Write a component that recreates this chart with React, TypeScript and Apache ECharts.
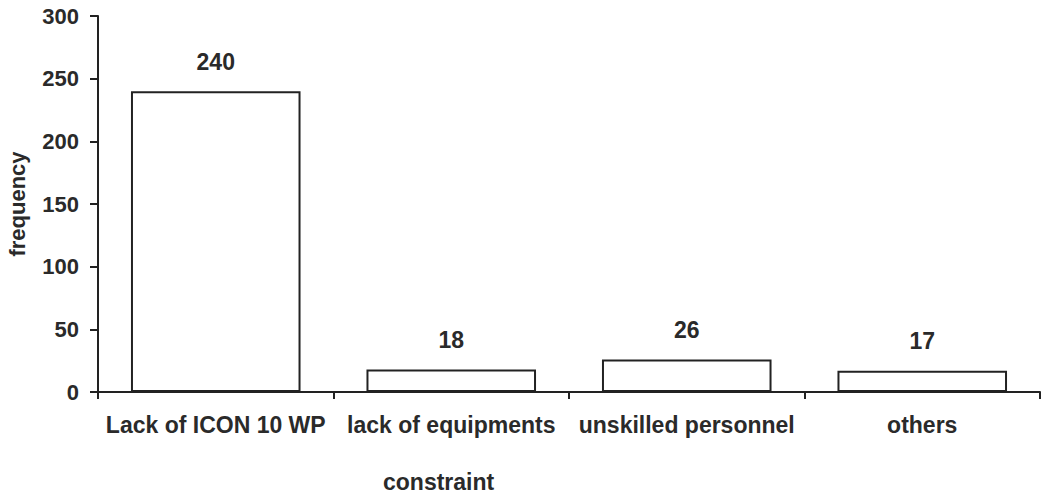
import React, { useEffect, useRef } from "react";
import * as echarts from "echarts";

const categories = ["Lack of ICON 10 WP", "lack of equipments", "unskilled personnel", "others"];
const frequencies = [240, 18, 26, 17];
const yTicks = [0, 50, 100, 150, 200, 250, 300];

export default function App() {
  const ref = useRef<HTMLDivElement>(null);
  useEffect(() => {
    const chart = echarts.init(ref.current!, null, { renderer: "svg" });
    const ink = "#222";
    const txt = "#2a2a2a";
    const font = "'Liberation Sans', Arial, sans-serif";
    chart.setOption({
      animation: false,
      backgroundColor: "#fff",
      grid: { left: 98, right: 4, top: 16, bottom: 102, containLabel: false, outerBoundsMode: "none" },
      xAxis: {
        type: "category",
        data: categories,
        axisLine: { lineStyle: { color: ink, width: 2 } },
        axisTick: { show: true, length: 7, lineStyle: { color: ink, width: 2 } },
        axisLabel: { interval: 0, color: txt, fontFamily: font, fontWeight: "bold", fontSize: 23, margin: 21 },
      },
      yAxis: {
        type: "value",
        min: yTicks[0],
        max: yTicks[yTicks.length - 1],
        interval: 50,
        splitLine: { show: false },
        axisLine: { show: true, lineStyle: { color: ink, width: 2 } },
        axisTick: { show: true, length: 8, lineStyle: { color: ink, width: 2 } },
        axisLabel: { color: txt, fontFamily: font, fontWeight: "bold", fontSize: 22, margin: 19 },
        name: "frequency",
        nameLocation: "middle",
        nameGap: 70,
        nameMoveOverlap: false,
        nameTextStyle: { color: txt, fontFamily: font, fontWeight: "bold", fontSize: 22 },
      },
      graphic: [
        {
          type: "text",
          left: 383,
          top: 470,
          style: { text: "constraint", fill: txt, font: `bold 23px ${font}` },
        },
      ],
      series: [
        {
          type: "bar",
          data: frequencies,
          barWidth: "72%",
          itemStyle: { color: "#fff", borderColor: ink, borderWidth: 2 },
          label: {
            show: true,
            position: "top",
            distance: 18,
            color: txt,
            fontFamily: font,
            fontWeight: "bold",
            fontSize: 23,
          },
        },
      ],
    });
    return () => chart.dispose();
  }, []);
  return <div ref={ref} style={{ position: "fixed", left: 0, top: 0, width: 1044, height: 494 }} />;
}
